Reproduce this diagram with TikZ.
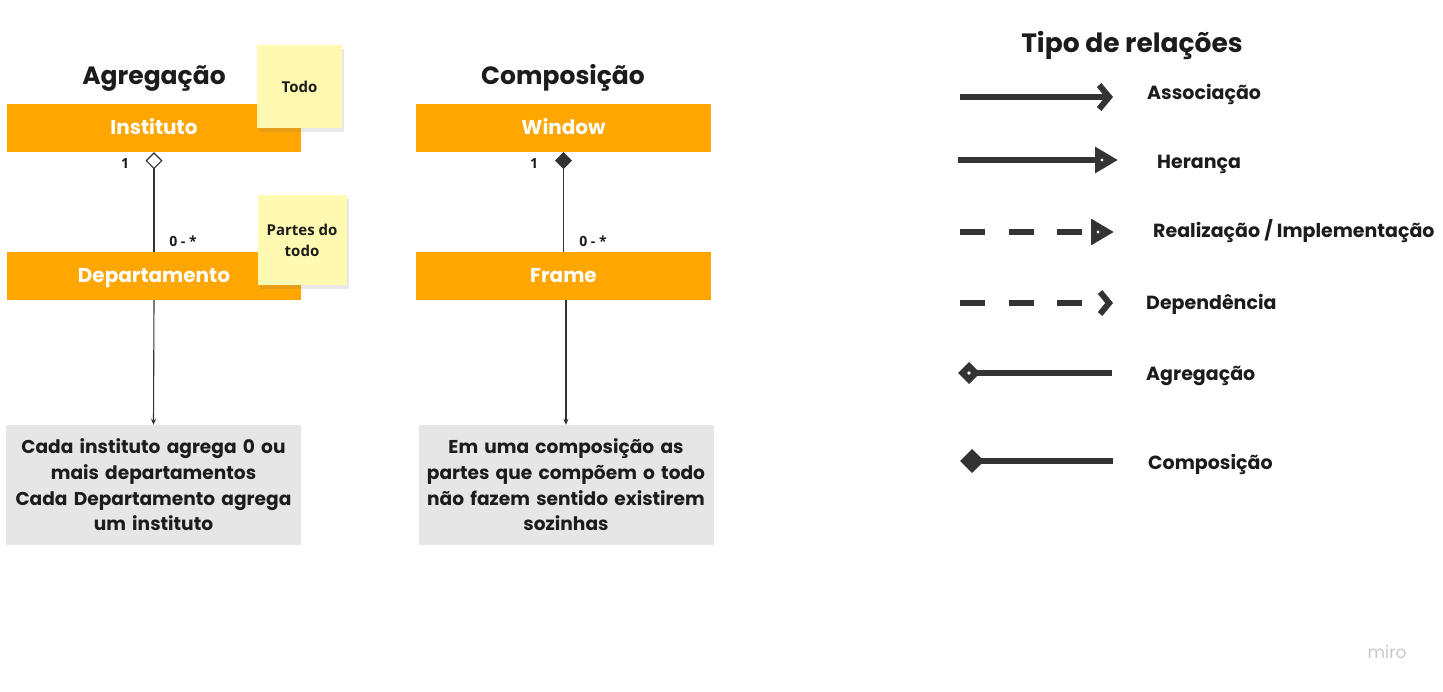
\documentclass[tikz,border=0pt]{standalone}
\usepackage{fontspec}
\setmainfont{Poppins}
\newfontfamily\osans{Open Sans}
\usetikzlibrary{arrows.meta,shadows}
\definecolor{uorange}{RGB}{255,166,0}
\definecolor{sticky}{RGB}{255,249,177}
\definecolor{descgray}{RGB}{230,230,230}
\definecolor{ink}{RGB}{28,28,28}
\definecolor{legink}{RGB}{51,51,51}
\definecolor{wm}{RGB}{200,200,208}
\begin{document}
\begin{tikzpicture}[x=1pt,y=-1pt,
  titletext/.style={anchor=base, font=\fontsize{25}{28}\selectfont\bfseries, text=ink, inner sep=0pt},
  classbox/.style={fill=uorange, minimum width=294pt, minimum height=48pt, inner sep=0pt, text=white, font=\fontsize{20}{22}\selectfont\bfseries, text height=14pt, text depth=0pt},
  descbox/.style={fill=descgray, minimum width=295pt, minimum height=120pt, inner sep=0pt, text width=294pt, align=center, text=ink, font=\fontsize{18.6}{25.6}\selectfont\bfseries},
  stickynote/.style={fill=sticky, inner sep=0pt, align=center, text=ink, font=\osans\fontsize{15}{21}\selectfont\bfseries, drop shadow={shadow xshift=2pt, shadow yshift=-4pt, opacity=0.18}},
  mult/.style={font=\osans\fontsize{14}{16}\selectfont\bfseries, text=ink, inner sep=0pt},
  umlline/.style={draw=legink, line width=1.1pt},
  legline/.style={draw=legink, line width=6pt},
  leglabel/.style={anchor=base west, font=\fontsize{19}{22}\selectfont\bfseries, text=ink, inner sep=0pt},
  dashy/.style={dash pattern=on 25pt off 23.5pt},
  holedot/.style={fill=white}
]
\useasboundingbox[fill=white] (0,0) rectangle (1443,692);

% ---------- Agregacao ----------
\node[titletext] (t1) at (154,85) {Agregação};
\node[classbox] (inst) at (154,128) {Instituto};
\node[classbox] (dept) at (154,276) {Departamento};
\node[descbox] (d1) at (153.5,485) {Cada instituto agrega 0 ou\\mais departamentos\\Cada Departamento agrega\\um instituto};
\draw[umlline, {Diamond[open,fill=white,length=17pt,width=17pt]}-] (inst.south) -- (dept.north);
\draw[umlline, -{Stealth[length=6pt,width=5pt]}] (dept.south) -- (d1.north);
\node[mult] (m1) at (125,164) {1};
\node[mult] (m2) at (183,241) {0 - *};
\node[stickynote, minimum width=85pt, minimum height=83pt] (s1) at (299.5,86.5) {Todo};
\node[stickynote, minimum width=89pt, minimum height=90pt] (s2) at (302,240) {Partes do\\todo};

% ---------- Composicao ----------
\node[titletext] (t2) at (563,85) {Composição};
\node[classbox, minimum width=295pt] (win) at (563.5,128) {Window};
\node[classbox, minimum width=295pt] (frm) at (563.5,276) {Frame};
\node[descbox] (d2) at (566,485) {Em uma composição as\\partes que compõem o todo\\não fazem sentido existirem\\sozinhas};
\draw[umlline, {Diamond[fill=legink,length=17pt,width=17pt]}-] (win.south) -- (frm.north);
\coordinate (fb) at (566,300);
\draw[umlline, -{Stealth[length=6pt,width=5pt]}] (fb) -- (d2.north);
\node[mult] (m3) at (534,164) {1};
\node[mult] (m4) at (593,241) {0 - *};

% ---------- Legend ----------
\node[titletext, font=\fontsize{26.5}{30}\selectfont\bfseries] (t3) at (1132,53) {Tipo de relações};

\coordinate (a1) at (960,97);  \coordinate (a2) at (1113,97);
\draw[legline, -{Straight Barb[length=10pt,width=24pt]}] (a1) -- (a2);
\node[leglabel] (l1) at (1147,100) {Associação};

\coordinate (h1) at (958,160); \coordinate (h2) at (1118,160);
\draw[legline, -{Triangle[length=23pt,width=25pt]}] (h1) -- (h2);
\fill[holedot] (1102,160) circle (1.6pt);
\node[leglabel] (l2) at (1157,168.5) {Herança};

\coordinate (r1) at (960,232); \coordinate (r2) at (1114,232);
\draw[legline, dashy, -{Triangle[length=23pt,width=25pt]}] (r1) -- (r2);
\fill[holedot] (1098,232) circle (1.6pt);
\node[leglabel] (l3) at (1153,237.5) {Realização / Implementação};

\coordinate (p1) at (960,303); \coordinate (p2) at (1113,303);
\draw[legline, dashy, -{Straight Barb[length=9pt,width=22pt]}] (p1) -- (p2);
\node[leglabel] (l4) at (1146,309.5) {Dependência};

\coordinate (g1) at (958,373); \coordinate (g2) at (1112,373);
\draw[legline, {Diamond[length=22pt,width=22pt]}-] (g1) -- (g2);
\fill[holedot] (969,373) circle (1.8pt);
\node[leglabel] (l5) at (1146,381) {Agregação};

\coordinate (c1) at (960,461); \coordinate (c2) at (1113,461);
\draw[legline, {Diamond[length=24pt,width=24pt]}-] (c1) -- (c2);
\node[leglabel] (l6) at (1148,469.5) {Composição};

\node[font=\fontsize{17}{20}\selectfont, text=wm, inner sep=0pt] (wmk) at (1387,652) {miro};
\end{tikzpicture}
\end{document}
